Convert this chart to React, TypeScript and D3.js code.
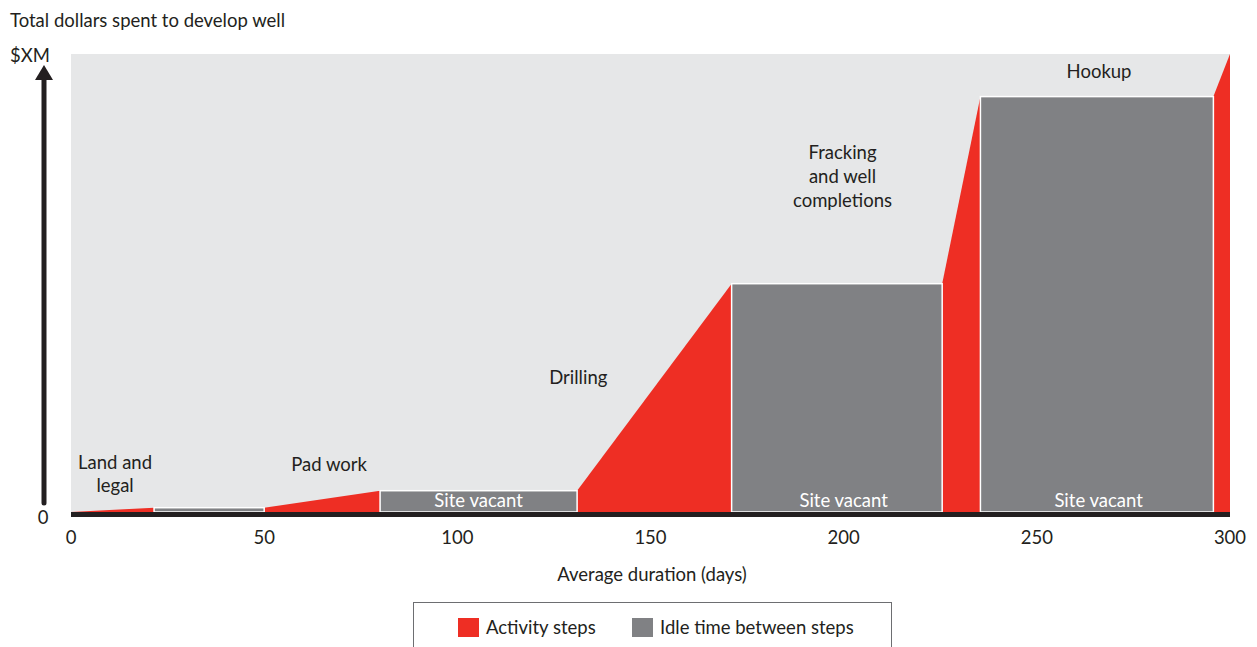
import React from "react";
import * as d3 from "d3";

// Breakpoints (days) and cumulative spend (% of $XM) at each breakpoint
const days = [0, 21.5, 50, 80, 131, 171, 225.5, 235.4, 295.7, 300];
const cumulativeCost = [0, 0.94, 0.94, 4.65, 4.65, 49.85, 49.85, 90.7, 90.7, 100];
const stepKind = ["activity", "idle", "activity", "idle", "activity", "idle", "activity", "idle", "activity"];

const xTicks = [0, 50, 100, 150, 200, 250, 300];

const activityLabels = [
  { lines: ["Land and", "legal"], day: 11.4 },
  { lines: ["Pad work"], day: 66.8 },
  { lines: ["Drilling"], day: 131.3 },
  { lines: ["Fracking", "and well", "completions"], day: 199.7 },
  { lines: ["Hookup"], day: 266.1 },
];
const idleLabel = "Site vacant";
const idleLabelDays = [105.5, 200, 266];

const legendItems = ["Activity steps", "Idle time between steps"];

const RED = "#EE2E24";
const GRAY = "#808184";
const BG = "#E6E7E8";
const TXT = "#231F20";
const FONT = "Lato, 'DejaVu Sans', sans-serif";
const FS = 18.5;

export default function App() {
  const W = 1257, H = 647;
  const x = d3.scaleLinear().domain([0, 300]).range([71, 1230]);
  const y = d3.scaleLinear().domain([0, 100]).range([512, 54]);

  const area = d3
    .area<[number, number]>()
    .x((d) => x(d[0]))
    .y0(y(0))
    .y1((d) => y(d[1]));

  const steps = stepKind.map((k, i) => ({
    kind: k,
    pts: [
      [days[i], cumulativeCost[i]],
      [days[i + 1], cumulativeCost[i + 1]],
    ] as [number, number][],
  }));

  const labelY: Record<string, number[]> = {
    "Land and": [469, 492],
    "Pad work": [471],
    "Drilling": [384],
    "Fracking": [159, 183, 207],
    "Hookup": [78],
  };

  return (
    <svg width={W} height={H} style={{ position: "absolute", left: 0, top: 0, fontFamily: FONT }}>
      <text x={10} y={27} fontSize={FS} fill={TXT}>Total dollars spent to develop well</text>
      <text x={10} y={62} fontSize={FS} fill={TXT}>$XM</text>
      <text x={43} y={524} fontSize={FS} fill={TXT} textAnchor="middle">0</text>
      {/* arrow */}
      <line x1={44} x2={44} y1={503} y2={76} stroke={TXT} strokeWidth={5} strokeLinecap="round" />
      <path d="M35,80 L53,80 L44,65 Z" fill={TXT} />

      {/* background */}
      <rect x={x(0)} y={y(100)} width={x(300) - x(0)} height={y(0) - y(100)} fill={BG} />

      {steps.map((s, i) =>
        s.kind === "activity" ? (
          <path key={i} d={area(s.pts) || ""} fill={RED} />
        ) : null
      )}
      {steps.map((s, i) =>
        s.kind === "idle" ? (
          <rect
            key={i}
            x={x(s.pts[0][0])}
            y={y(s.pts[0][1])}
            width={x(s.pts[1][0]) - x(s.pts[0][0])}
            height={y(0) - y(s.pts[0][1])}
            fill={GRAY}
            stroke="#ffffff"
            strokeWidth={1.5}
          />
        ) : null
      )}

      {/* baseline */}
      <line x1={x(0)} x2={x(300)} y1={514.5} y2={514.5} stroke={TXT} strokeWidth={5} />

      {/* x ticks */}
      {xTicks.map((t) => (
        <text key={t} x={x(t)} y={544} fontSize={FS} fill={TXT} textAnchor="middle">{t}</text>
      ))}
      <text x={652} y={581} fontSize={FS} fill={TXT} textAnchor="middle">Average duration (days)</text>

      {/* activity labels */}
      {activityLabels.map((l, i) => (
        <text key={i} fontSize={FS} fill={TXT} textAnchor="middle">
          {l.lines.map((ln, j) => (
            <tspan key={j} x={x(l.day)} y={labelY[l.lines[0]][j]}>{ln}</tspan>
          ))}
        </text>
      ))}
      {idleLabelDays.map((d, i) => (
        <text key={i} x={x(d)} y={507} fontSize={FS} fill="#ffffff" textAnchor="middle">{idleLabel}</text>
      ))}

      {/* legend */}
      <rect x={413.5} y={602.5} width={478} height={60} fill="#fff" stroke="#6d6e71" strokeWidth={1} />
      <rect x={458} y={618} width={21} height={19} fill={RED} />
      <text x={486} y={634} fontSize={FS} fill={TXT}>{legendItems[0]}</text>
      <rect x={632} y={618} width={21} height={19} fill={GRAY} />
      <text x={660} y={634} fontSize={FS} fill={TXT}>{legendItems[1]}</text>
    </svg>
  );
}
